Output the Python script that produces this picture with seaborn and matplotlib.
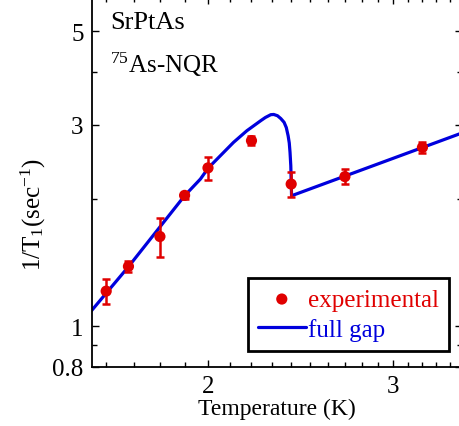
import numpy as np
import pandas as pd
import matplotlib
matplotlib.use('Agg')
import matplotlib.pyplot as plt
from matplotlib.ticker import FixedLocator, NullFormatter, FixedFormatter
import seaborn as sns

# measured 1/T1 (75As-NQR, SrPtAs)
temp = [1.60, 1.68, 1.80, 1.90, 2.00, 2.20, 2.40, 2.70, 3.20]
rate = [1.21, 1.385, 1.63, 2.04, 2.37, 2.75, 2.17, 2.26, 2.65]
rate_lo = [1.127, 1.34, 1.455, 2.00, 2.214, 2.68, 2.018, 2.167, 2.57]
rate_hi = [1.292, 1.428, 1.80, 2.08, 2.511, 2.82, 2.313, 2.355, 2.733]

# full gap fit curve
fit_t = [1.549, 1.681, 1.900, 1.967, 2.001, 2.055, 2.115, 2.178, 2.245, 2.268,
         2.295, 2.310, 2.329, 2.346, 2.363, 2.3745, 2.384, 2.390, 2.394, 2.398,
         2.402, 3.50]
fit_r = [1.087, 1.385, 2.036, 2.230, 2.368, 2.533, 2.724, 2.903, 3.066, 3.120,
         3.168, 3.172, 3.150, 3.102, 3.039, 2.953, 2.824, 2.715, 2.580, 2.398,
         2.036, 2.875]

sns.set_style('ticks')
plt.rcParams['font.family'] = ['Liberation Serif', 'DejaVu Serif']
plt.rcParams['mathtext.fontset'] = 'custom'
plt.rcParams['mathtext.rm'] = 'Liberation Serif'
plt.rcParams['mathtext.it'] = 'Liberation Serif:italic'
plt.rcParams['text.color'] = 'black'
plt.rcParams['axes.labelcolor'] = 'black'

fig = plt.figure(figsize=(4.59, 4.27), dpi=100)
ax = fig.add_axes([92/459, 59/427, 370/459, 370/427])

red = '#e00000'
blue = '#0000dd'

sns.lineplot(x=fit_t, y=fit_r, sort=False, estimator=None, color=blue,
             lw=2.3, label='full gap', ax=ax, zorder=2)
yerr = [np.array(rate) - np.array(rate_lo), np.array(rate_hi) - np.array(rate)]
ax.errorbar(temp, rate, yerr=yerr, fmt='none', ecolor=red, elinewidth=1.8,
            capsize=3, capthick=1.8, zorder=3)
sns.scatterplot(x=temp, y=rate, color=red, s=65, edgecolor='none',
                label='experimental', ax=ax, zorder=4)

ax.set_xscale('log')
ax.set_yscale('log')
ax.set_xlim(1.551, 3.49)
ax.set_ylim(0.8, 6.02)

ax.xaxis.set_major_locator(FixedLocator([2, 3]))
ax.xaxis.set_major_formatter(FixedFormatter(['2', '3']))
ax.xaxis.set_minor_locator(FixedLocator([1.6, 1.7, 1.8, 1.9, 2.1, 2.2, 2.3, 2.4, 2.5,
                                         2.6, 2.7, 2.8, 2.9, 3.1, 3.2, 3.3, 3.4]))
ax.xaxis.set_minor_formatter(NullFormatter())
ax.yaxis.set_major_locator(FixedLocator([0.8, 1, 3, 5]))
ax.yaxis.set_major_formatter(FixedFormatter(['0.8', '1', '3', '5']))
ax.yaxis.set_minor_locator(FixedLocator([0.9, 2, 4, 6]))
ax.yaxis.set_minor_formatter(NullFormatter())

ax.tick_params(which='both', direction='in', top=True, right=True,
               labelsize=18, colors='black', width=1)
ax.tick_params(which='major', length=5, pad=6)
ax.tick_params(which='minor', length=3.5)
for s in ax.spines.values():
    s.set_linewidth(1.3)
    s.set_color('black')

ax.set_xlabel('Temperature (K)', fontsize=17, labelpad=0)
ax.set_ylabel('1/T$_\\mathregular{1}$(sec$^\\mathregular{-1}$)', fontsize=18)
ax.yaxis.set_label_coords(-0.118, 0.414)

ax.text(0.049, 0.916, 'SrPtAs', transform=ax.transAxes, fontsize=19, va='baseline')
ax.text(0.049, 0.797, '$^\\mathregular{75}$As-NQR', transform=ax.transAxes,
        fontsize=18, va='baseline')

handles, labels = ax.get_legend_handles_labels()
order = [labels.index('experimental'), labels.index('full gap')]
leg = ax.legend([handles[i] for i in order], [labels[i] for i in order],
                loc='lower right', bbox_to_anchor=(0.965, 0.043), fontsize=18,
                frameon=True, fancybox=False, edgecolor='black', framealpha=1,
                handlelength=1.9, handletextpad=0.1, borderpad=0.4,
                labelspacing=0.3, borderaxespad=0)
leg.get_frame().set_linewidth(2)
for t, c in zip(leg.get_texts(), [red, blue]):
    t.set_color(c)

fig.savefig('out.png', dpi=100)
